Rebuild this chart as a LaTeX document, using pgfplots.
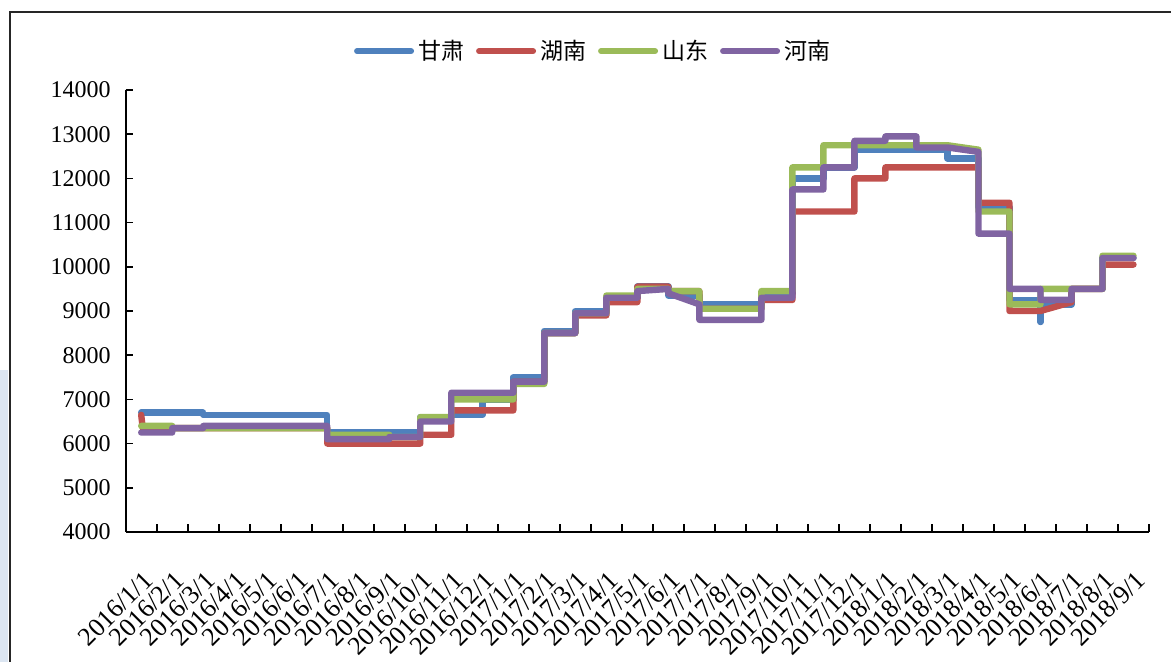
\documentclass[border=0pt]{standalone}
\usepackage{fontspec}
\setmainfont{Liberation Serif}
\newfontfamily\cjk{Noto Sans CJK SC}
\usepackage{pgfplots}
\pgfplotsset{compat=1.18}
\definecolor{gansu}{RGB}{79,129,189}
\definecolor{hunan}{RGB}{192,80,77}
\definecolor{shandong}{RGB}{155,187,89}
\definecolor{henan}{RGB}{128,100,162}
\definecolor{edgeblue}{RGB}{220,230,242}
\tikzset{
    price/.style={line width=3.2pt, line join=round, line cap=round, mark=none}
}
\begin{document}
\begin{tikzpicture}
\path[use as bounding box] (-62.85pt,-65pt) rectangle (522.65pt,266pt);
\fill[edgeblue] (-62.85pt,81pt) rectangle (-58.6pt,-65pt);
\draw[line width=1pt, black!85] (-57.85pt,260pt) rectangle (560pt,-90pt);
\begin{axis}[
    scale only axis,
    width=511.65pt,
    height=221pt,
    xmin=-0.5, xmax=32.5,
    ymin=4000, ymax=14000,
    axis x line*=bottom,
    axis y line*=left,
    axis line style={line width=0.9pt, -},
    tick align=inside,
    tick style={black, line width=0.8pt},
    major tick length=3.8pt,
    xtick={-0.5,0.5,...,32.5},
    x tick label as interval,
    xticklabels={2016/1/1,2016/2/1,2016/3/1,2016/4/1,2016/5/1,2016/6/1,2016/7/1,2016/8/1,2016/9/1,2016/10/1,2016/11/1,2016/12/1,
        2017/1/1,2017/2/1,2017/3/1,2017/4/1,2017/5/1,2017/6/1,2017/7/1,2017/8/1,2017/9/1,2017/10/1,2017/11/1,2017/12/1,
        2018/1/1,2018/2/1,2018/3/1,2018/4/1,2018/5/1,2018/6/1,2018/7/1,2018/8/1,2018/9/1},
    ytick={4000,5000,...,14000},
    scaled y ticks=false,
    yticklabel style={font=\fontsize{12}{14}\selectfont, xshift=-4pt},
    xticklabel style={xshift=6pt, yshift=-19.5pt, font=\fontsize{13}{15}\selectfont, rotate=45, anchor=east},
    /pgf/number format/1000 sep={},
    /pgf/number format/assume math mode=true,
    legend columns=4,
    legend style={
        draw=none, fill=none,
        at={(0.4577,1.088)}, anchor=center,
        font=\cjk\fontsize{11.5}{13}\selectfont,
        /tikz/every even column/.append style={column sep=4pt},
        /tikz/every odd column/.append style={column sep=0pt}
    },
    legend image code/.code={
        \draw[#1, line width=3pt, line cap=round] (0pt,0pt) -- (27pt,0pt);
    },
]
\addplot[price, color=gansu] coordinates {
    (0,6700) (2,6700) (2,6650) (6,6650) (6,6250) (9,6250) (9,6600) (10,6600)
    (10,6650) (11,6650) (11,7000) (12,7000) (12,7500) (13,7500) (13,8550) (14,8550)
    (14,9000) (15,9000) (15,9300) (16,9300) (16,9550) (17,9550) (17,9350) (18,9350)
    (18,9150) (20,9150) (20,9400) (21,9400) (21,12000) (22,12000) (22,12250) (23,12250)
    (23,12650) (26,12650) (26,12450) (27,12450) (27,11350) (28,11350) (28,9250) (29,9250)
    (29,8750) (29,9150) (30,9150) (30,9500) (31,9500) (31,10200) (32,10200)
};
\addlegendentry{甘肃}
\addplot[price, color=hunan] coordinates {
    (0,6650) (0.05,6350) (6,6350) (6,6000) (9,6000) (9,6200) (10,6200) (10,6750)
    (12,6750) (12,7400) (13,7400) (13,8500) (14,8500) (14,8900) (15,8900) (15,9200)
    (16,9200) (16,9550) (17,9550) (17,9450) (18,9450) (18,9050) (20,9050) (20,9250)
    (21,9250) (21,11250) (23,11250) (23,12000) (24,12000) (24,12250) (27,12250) (27,11450)
    (28,11450) (28,9000) (29,9000) (30,9200) (30,9500) (31,9500) (31,10050) (32,10050)
};
\addlegendentry{湖南}
\addplot[price, color=shandong] coordinates {
    (0,6400) (1,6400) (1,6350) (6,6350) (6,6200) (8,6200) (8,6150) (9,6150)
    (9,6600) (10,6600) (10,7000) (12,7000) (12,7350) (13,7350) (13,8500) (14,8500)
    (14,8950) (15,8950) (15,9350) (16,9350) (16,9500) (17,9500) (17,9450) (18,9450)
    (18,9050) (20,9050) (20,9450) (21,9450) (21,12250) (22,12250) (22,12750) (26,12750)
    (27,12650) (27,11250) (28,11250) (28,9150) (29,9150) (29,9500) (31,9500) (31,10250)
    (32,10250)
};
\addlegendentry{山东}
\addplot[price, color=henan] coordinates {
    (0,6250) (1,6250) (1,6350) (2,6350) (2,6400) (6,6400) (6,6100) (8,6100)
    (8,6150) (9,6150) (9,6500) (10,6500) (10,7150) (12,7150) (12,7400) (13,7400)
    (13,8500) (14,8500) (14,8950) (15,8950) (15,9300) (16,9300) (16,9450) (17,9500)
    (17,9400) (18,9150) (18,8800) (20,8800) (20,9300) (21,9300) (21,11750) (22,11750)
    (22,12250) (23,12250) (23,12850) (24,12850) (24,12950) (25,12950) (25,12700) (26,12700)
    (27,12600) (27,10750) (28,10750) (28,9500) (29,9500) (29,9250) (30,9250) (30,9500)
    (31,9500) (31,10200) (32,10200)
};
\addlegendentry{河南}
\end{axis}
\end{tikzpicture}
\end{document}
